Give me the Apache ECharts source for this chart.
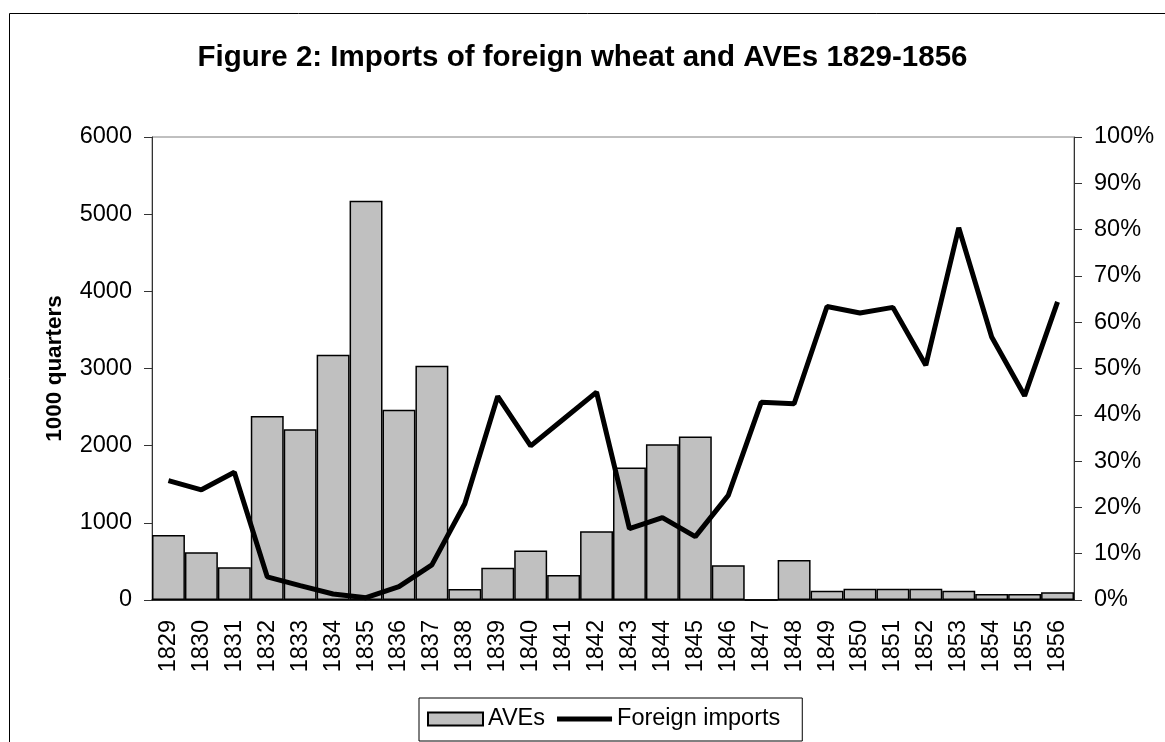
<!DOCTYPE html>
<html>
<head>
<meta charset="utf-8">
<script src="https://cdn.jsdelivr.net/npm/echarts@6/dist/echarts.min.js"></script>
<style>
  html, body { margin: 0; padding: 0; background: #fff; }
  #chart { width: 1165px; height: 742px; }
</style>
</head>
<body>
<div id="chart"></div>
<script>
const years = ['1829', '1830', '1831', '1832', '1833', '1834', '1835', '1836', '1837', '1838',
  '1839', '1840', '1841', '1842', '1843', '1844', '1845', '1846', '1847', '1848',
  '1849', '1850', '1851', '1852', '1853', '1854', '1855', '1856']

// bars, 1000 quarters (left axis)
const aves = [843, 619, 424, 2386, 2214, 3178, 5175, 2464, 3035, 143,
  419, 640, 324, 891, 1716, 2019, 2118, 450, 0, 519,
  121, 147, 147, 147, 121, 78, 78, 99]

// line, share (right axis)
const foreignImports = [0.258, 0.238, 0.276, 0.050, 0.031, 0.013, 0.005, 0.029, 0.076, 0.208,
  0.440, 0.333, 0.391, 0.449, 0.154, 0.178, 0.137, 0.226, 0.427, 0.424,
  0.634, 0.620, 0.632, 0.507, 0.804, 0.568, 0.441, 0.644]

const font = 'Arial, "Liberation Sans", sans-serif'
const labelSize = 23.5

const chart = echarts.init(document.getElementById('chart'))

chart.setOption({
  backgroundColor: '#fff',
  animation: false,
  textStyle: { fontFamily: font, color: '#000' },
  graphic: [
    {
      type: 'rect',
      shape: { x: 9.5, y: 13.5, width: 1300, height: 900 },
      style: { fill: 'none', stroke: '#000', lineWidth: 1 },
      silent: true,
    },
  ],
  title: {
    text: 'Figure 2: Imports of foreign wheat and AVEs 1829-1856',
    left: 'center',
    top: 38,
    textStyle: { fontFamily: font, fontSize: 29.5, fontWeight: 'bold', color: '#000' },
  },
  legend: {
    left: 419,
    top: 698,
    itemWidth: 55,
    itemHeight: 13,
    itemGap: 12,
    padding: [9, 22, 10, 8],
    borderColor: '#000',
    borderWidth: 1,
    textStyle: { fontFamily: font, fontSize: labelSize, color: '#000' },
    data: [
      { name: 'AVEs', icon: 'rect' },
      // thick line icon; the two moves keep the full icon box so the bar stays thin
      { name: 'Foreign imports', icon: 'path://M0,0 M55,13 M0,4 L55,4 L55,9 L0,9 Z' },
    ],
  },
  grid: {
    left: 152,
    right: 91,
    top: 137,
    bottom: 142,
    show: true,
    borderColor: '#808080',
    borderWidth: 1,
  },
  xAxis: {
    type: 'category',
    data: years,
    boundaryGap: true,
    axisLine: { lineStyle: { color: '#000', width: 1.5 } },
    axisTick: { interval: 0, length: 7, lineStyle: { color: '#000' } },
    axisLabel: { interval: 0, rotate: 90, fontSize: labelSize, margin: 20, color: '#000', fontFamily: font },
  },
  yAxis: [
    {
      type: 'value',
      min: 0,
      max: 6000,
      interval: 1000,
      name: '1000 quarters',
      nameLocation: 'middle',
      nameGap: 86,
      nameTextStyle: { fontFamily: font, fontSize: 22.5, fontWeight: 'bold', color: '#000' },
      axisLine: { show: true, lineStyle: { color: '#333' } },
      axisTick: { show: true, length: 8, lineStyle: { color: '#333' } },
      axisLabel: {
        fontSize: labelSize,
        margin: 20,
        color: '#000',
        fontFamily: font,
        formatter: (v) => String(v),
      },
      splitLine: { show: false },
    },
    {
      type: 'value',
      min: 0,
      max: 1,
      interval: 0.1,
      position: 'right',
      axisLine: { show: true, lineStyle: { color: '#333' } },
      axisTick: { show: true, length: 8, lineStyle: { color: '#333' } },
      axisLabel: {
        fontSize: labelSize,
        margin: 20,
        color: '#000',
        fontFamily: font,
        formatter: (v) => Math.round(v * 100) + '%',
      },
      splitLine: { show: false },
    },
  ],
  series: [
    {
      name: 'AVEs',
      type: 'bar',
      data: aves,
      barCategoryGap: '0%',
      itemStyle: { color: '#C0C0C0', borderColor: '#000', borderWidth: 1.5 },
    },
    {
      name: 'Foreign imports',
      type: 'line',
      yAxisIndex: 1,
      data: foreignImports,
      symbol: 'none',
      z: 5,
      lineStyle: { color: '#000', width: 5 },
      itemStyle: { color: '#000' },
    },
  ],
})
</script>
</body>
</html>
